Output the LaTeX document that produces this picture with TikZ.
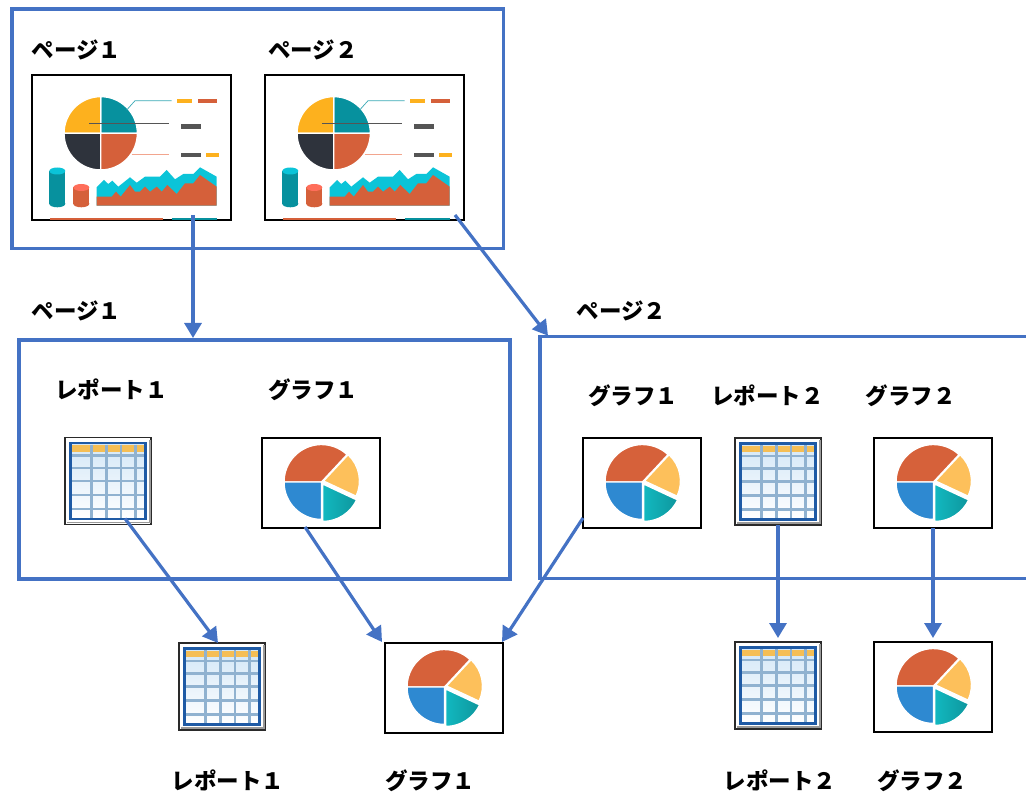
\documentclass[tikz,border=0pt]{standalone}
\usepackage{fontspec}
\newfontfamily\jp{Noto Sans CJK JP}
\usetikzlibrary{arrows.meta,calc}

\definecolor{blu}{HTML}{4472C4}
% dashboard thumbnail colours
\definecolor{dYel}{HTML}{FDB11E}
\definecolor{dTeal}{HTML}{07919E}
\definecolor{dDark}{HTML}{2E333C}
\definecolor{dOra}{HTML}{D5603A}
\definecolor{dCyan}{HTML}{0BC4D8}
\definecolor{dGray}{HTML}{555555}
\definecolor{dSalmon}{HTML}{FF6E5A}
\definecolor{dTealL}{HTML}{3AA9B6}
\definecolor{dSalL}{HTML}{F2A58E}
% pie chart icon colours
\definecolor{pieO}{HTML}{D6613A}
\definecolor{pieY}{HTML}{FDC05B}
\definecolor{pieB}{HTML}{2E89D1}
\definecolor{pieTa}{HTML}{12B8C0}
\definecolor{pieTb}{HTML}{0E969D}
% table icon colours
\definecolor{repTop}{HTML}{D3E7F7}
\definecolor{repHead}{HTML}{F5BE55}
\definecolor{repGrid}{HTML}{90B2D0}
\definecolor{repBlue}{HTML}{1E5AA5}
\definecolor{repEdge}{HTML}{2A2A2A}
\definecolor{repShadow}{HTML}{9A9A9A}

\tikzset{
  grp/.style={draw=blu, line width=3.6pt, outer sep=0pt, inner sep=0pt, anchor=north west},
  arr/.style={draw=blu, line width=3.2pt, -{Triangle[length=15pt,width=17pt]}},
  lbl/.style={font=\jp\bfseries\fontsize{22.5}{27}\selectfont, inner sep=0pt, anchor=base},
  frame/.style={draw=black, line width=1.3pt, fill=white, outer sep=0pt, inner sep=0pt, anchor=north west},
  tablebox/.style={draw=repEdge, line width=1.1pt, fill=white, outer sep=0pt, inner sep=0pt,
    anchor=north west, minimum width=86pt, minimum height=87pt},
  sep/.style={draw=white, line width=1.4pt},
}

% dashboard page thumbnail: name, north-west corner
\newcommand\dashicon[2]{%
  \node[frame, minimum width=199pt, minimum height=145pt] (#1) at (#2) {};
  \begin{scope}[shift={(#1.north west)}]
    \begin{scope}[shift={(68.7,58.3)}, yscale=-1]
      \filldraw[fill=dTeal, sep] (0,0) -- (0:36.7) arc[start angle=0, end angle=90, radius=36.7] -- cycle;
      \filldraw[fill=dYel, sep] (0,0) -- (90:36.7) arc[start angle=90, end angle=180, radius=36.7] -- cycle;
      \filldraw[fill=dDark, sep] (0,0) -- (180:36.7) arc[start angle=180, end angle=270, radius=36.7] -- cycle;
      \filldraw[fill=dOra, sep] (0,0) -- (270:36.7) arc[start angle=270, end angle=360, radius=36.7] -- cycle;
    \end{scope}
    \draw[dTealL, line width=0.7pt] (94.7,35) -- (103,25.7) -- (139.7,25.7);
    \draw[dGray, line width=0.8pt] (57.3,48.3) -- (137.3,48.3);
    \draw[dSalL, line width=0.8pt] (99.7,79.3) -- (137.3,79.3);
    \fill[dYel] (145.3,24.3) rectangle (160.3,28.3);
    \fill[dOra] (165.7,24.3) rectangle (185.3,28.3);
    \fill[dGray] (148.7,49.3) rectangle (168.7,53.7);
    \fill[dGray] (148.7,77.7) rectangle (168.7,82);
    \fill[dYel] (174,77.7) rectangle (186.7,82);
    % cylinders
    \fill[dTeal] (17.3,96) rectangle (33.3,128.8);
    \fill[dTeal] (25.3,128.8) ellipse [x radius=8, y radius=3.5];
    \fill[dCyan] (25.3,96) ellipse [x radius=8, y radius=3.5];
    \fill[dOra] (41.3,112.5) rectangle (57.3,128.8);
    \fill[dOra] (49.3,128.8) ellipse [x radius=8, y radius=3.5];
    \fill[dSalmon] (49.3,112.5) ellipse [x radius=8, y radius=3.5];
    % area chart
    \fill[dCyan] (64.7,112.3) -- (72,105) -- (76.3,109) -- (80.3,105.7) -- (86.3,111.7)
      -- (98,102.3) -- (104.7,107.7) -- (113,101.7) -- (128,101.7) -- (134.7,95)
      -- (143,104.3) -- (151.3,99) -- (161.3,99) -- (168,92.3) -- (184.7,101.7)
      -- (184.7,130.7) -- (64.7,130.7) -- cycle;
    \fill[dOra] (64.7,121.7) -- (79.7,121.7) -- (84,116.7) -- (88.7,121.7) -- (98,110)
      -- (103,116.7) -- (108,116.7) -- (113,111.7) -- (118,116.7) -- (124.7,111.7)
      -- (129.7,116.7) -- (135.3,110) -- (144.7,119) -- (153,108.3) -- (161.3,108.3)
      -- (168,100) -- (184.7,111.7) -- (184.7,130.7) -- (64.7,130.7) -- cycle;
    \draw[dOra, line width=1.2pt] (18,144) -- (131.3,144);
    \draw[dTeal, line width=1.2pt] (139.7,144) -- (184.7,144);
  \end{scope}}

% table icon: name, north-west corner
\newcommand\tableicon[2]{%
  \node[tablebox] (#1) at (#2) {};
  \begin{scope}[shift={(#1.north west)}]
    \fill[repShadow] (2,84) rectangle (84,85.5);
    \fill[repShadow] (84,2) rectangle (85.5,85.5);
    \shade[top color=repTop, bottom color=white] (5.5,5.5) rectangle (80.5,81.5);
    \fill[repHead] (6.8,7.5) rectangle (79.2,14);
    \foreach \yy in {18,30.3,43.7,57.3,71.3}
      \draw[repGrid, line width=2.5pt] (6.8,\yy) -- (79.2,\yy);
    \foreach \xx in {26.7,41.7,56,70.3}
      \draw[repGrid, line width=2.5pt] (\xx,7) -- (\xx,80.2);
    \draw[repBlue, line width=2.6pt] (5.5,5.5) rectangle (80.5,81.5);
  \end{scope}}

% pie chart icon: name, north-west corner
\newcommand\pieicon[2]{%
  \node[frame, minimum width=118pt, minimum height=90pt] (#1) at (#2) {};
  \begin{scope}[shift={(#1.center)}, yscale=-1]
    \begin{scope}[shift={(0.5,1)}]
      \filldraw[fill=pieO, sep] (0,0) -- (47:37.5) arc[start angle=47, end angle=180, radius=37.5] -- cycle;
      \filldraw[fill=pieB, sep] (0,0) -- (180:37.5) arc[start angle=180, end angle=270, radius=37.5] -- cycle;
      \begin{scope}[shift={(1.2,-2)}]
        \path[left color=pieTa, right color=pieTb, sep] (0,0) -- (270:37.5)
          arc[start angle=270, end angle=335, radius=37.5] -- cycle;
      \end{scope}
      \begin{scope}[shift={(2,1)}]
        \filldraw[fill=pieY, sep] (0,0) -- (-25:36) arc[start angle=-25, end angle=47, radius=36] -- cycle;
      \end{scope}
    \end{scope}
  \end{scope}}

\begin{document}
\begin{tikzpicture}[x=1pt, y=-1pt]
\useasboundingbox (0,0) rectangle (1026,794);

% group frames
\node[grp, minimum width=491.6pt, minimum height=239.7pt] (top) at (11.7,9) {};
\node[grp, minimum width=491.3pt, minimum height=239pt] (p1) at (18.7,340) {};
\node[grp, minimum width=500pt, minimum height=241.6pt] (p2) at (540,336.7) {};

% page thumbnails
\node[lbl] (tl1) at (76.7,59) {ページ１};
\node[lbl] (tl2) at (313,59) {ページ２};
\dashicon{th1}{32,75}
\dashicon{th2}{265,75}

% page headings
\node[lbl] (pl1) at (76.7,320) {ページ１};
\node[lbl] (pl2) at (621.7,320) {ページ２};

% page 1 contents
\node[lbl] (l11) at (111.5,399) {レポート１};
\node[lbl] (l12) at (313,399) {グラフ１};
\tableicon{r1}{65,437.5}
\pieicon{g1}{262,438}

% page 2 contents
\node[lbl] (l21) at (633.3,404) {グラフ１};
\node[lbl] (l22) at (767.3,404) {レポート２};
\node[lbl] (l23) at (910.5,404) {グラフ２};
\pieicon{g2}{583,438}
\tableicon{r2}{735,438}
\pieicon{g3}{874,438}

% shared items
\tableicon{r3}{179,643}
\pieicon{g4}{385,643}
\tableicon{r4}{735,642}
\pieicon{g5}{874,642}
\node[lbl] (b1) at (228,789) {レポート１};
\node[lbl] (b2) at (430,789) {グラフ１};
\node[lbl] (b3) at (780,789) {レポート２};
\node[lbl] (b4) at (922,789) {グラフ２};

% connectors
\coordinate (s1) at ($(th1.south west)+(161,-5)$);
\coordinate (e1) at (s1 |- p1.north);
\draw[arr] (s1) -- ($(e1)+(0,-2)$);
\draw[arr] ($(th2.south west)+(190,-5)$) -- ($(p2.north west)+(8,-1)$);
\draw[arr] ($(r1.north west)+(60,81)$) -- ($(r3.north west)+(39,0)$);
\draw[arr] ($(g1.north west)+(43,89)$) -- ($(g4.north west)+(-3,-1)$);
\draw[arr] ($(g2.north west)+(0,80)$) -- ($(g4.north east)+(-1,-1)$);
\draw[arr] (r2.south) -- ($(r2.south |- r4.north)+(0,-4)$);
\draw[arr] (g3.south) -- ($(g3.south |- g5.north)+(0,-4)$);
\end{tikzpicture}
\end{document}
